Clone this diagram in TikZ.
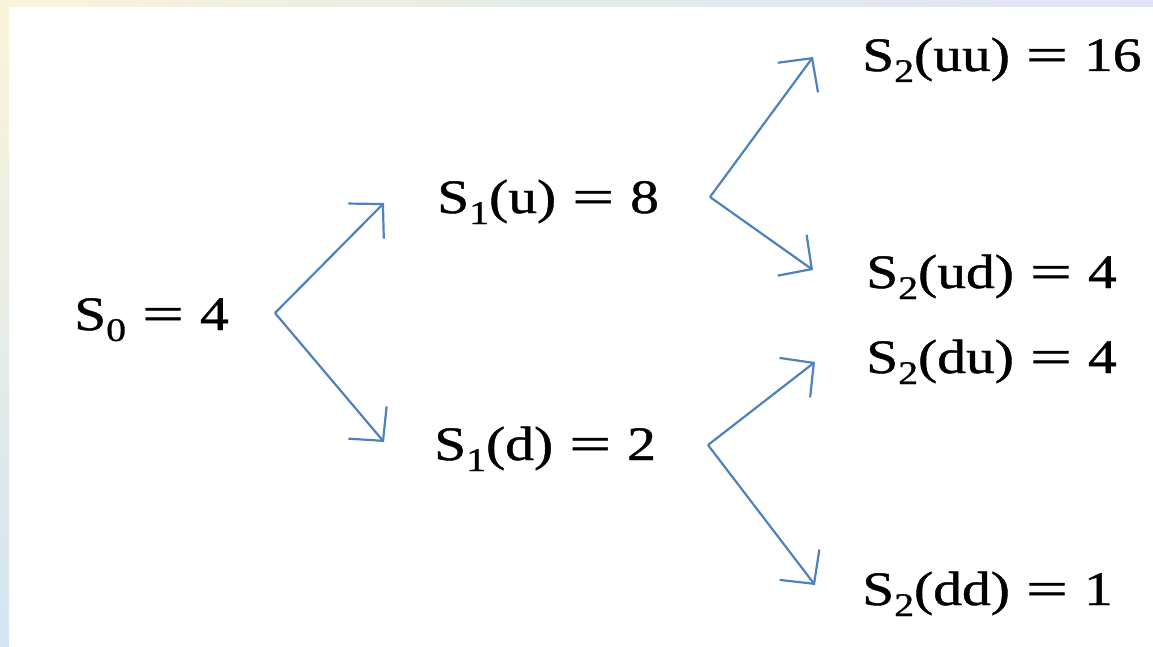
\documentclass[tikz,border=0pt]{standalone}
\usepackage{fontspec}
\setmainfont{Liberation Serif}
\newfontfamily\treefont[FakeStretch=1.2, FakeBold=0.9]{Liberation Serif}
\newfontfamily\eqwide[FakeStretch=1.55, FakeBold=0.9]{Liberation Serif}
\usetikzlibrary{arrows.meta, calc}
\definecolor{arrblue}{RGB}{79, 129, 189}
\definecolor{bandyel}{RGB}{250, 244, 218}
\definecolor{bandblue}{RGB}{212, 229, 242}
\definecolor{bandlav}{RGB}{226, 226, 246}
\newcommand{\lowsub}[1]{\raisebox{-11pt}{\fontsize{33}{33}\selectfont #1}}
\newcommand{\eqsign}{\hspace{16pt}{\eqwide =}\hspace{16pt}}
\tikzset{
  val/.style={font=\treefont\fontsize{48}{52}\selectfont, anchor=base west,
              inner sep=0pt},
  arr/.style={-{Straight Barb[length=24pt, width=50pt]}, draw=arrblue,
              line width=2.2pt},
}
\begin{document}
\begin{tikzpicture}[x=1pt, y=-1pt]
  \useasboundingbox (0,0) rectangle (1153,647);
  % slide edges
  \shade[left color=bandyel, right color=bandlav,
         middle color=bandblue!60!bandyel] (0,0) rectangle (1153,7);
  \shade[top color=bandyel, bottom color=bandblue] (0,7) rectangle (9,647);

  % ---- values ----
  \node[val] (s0)   at (74,330)  {S\lowsub{0}\eqsign 4};
  \node[val] (s1u)  at (437,213) {S\lowsub{1}(u)\eqsign 8};
  \node[val] (s1d)  at (434,460) {S\lowsub{1}(d)\eqsign 2};
  \node[val] (s2uu) at (862,71)  {S\lowsub{2}(uu)\eqsign 16};
  \node[val] (s2ud) at (866,288) {S\lowsub{2}(ud)\eqsign 4};
  \node[val] (s2du) at (866,373) {S\lowsub{2}(du)\eqsign 4};
  \node[val] (s2dd) at (862,605) {S\lowsub{2}(dd)\eqsign 1};

  % ---- forks ----
  \coordinate (f0)  at (275,313);
  \coordinate (f1u) at (710,197);
  \coordinate (f1d) at (708,445);
  \coordinate (t1u)  at ($(s1u.base west)+(-53,-10)$);
  \coordinate (t1d)  at ($(s1d.base west)+(-50,-18)$);
  \coordinate (t2uu) at ($(s2uu.base west)+(-49,-14)$);
  \coordinate (t2ud) at ($(s2ud.base west)+(-53,-18)$);
  \coordinate (t2du) at ($(s2du.base west)+(-51,-11)$);
  \coordinate (t2dd) at ($(s2dd.base west)+(-47,-20)$);
  \draw[arr] (f0) -- (t1u);
  \draw[arr] (f0) -- (t1d);
  \draw[arr] (f1u) -- (t2uu);
  \draw[arr] (f1u) -- (t2ud);
  \draw[arr] (f1d) -- (t2du);
  \draw[arr] (f1d) -- (t2dd);
\end{tikzpicture}
\end{document}
